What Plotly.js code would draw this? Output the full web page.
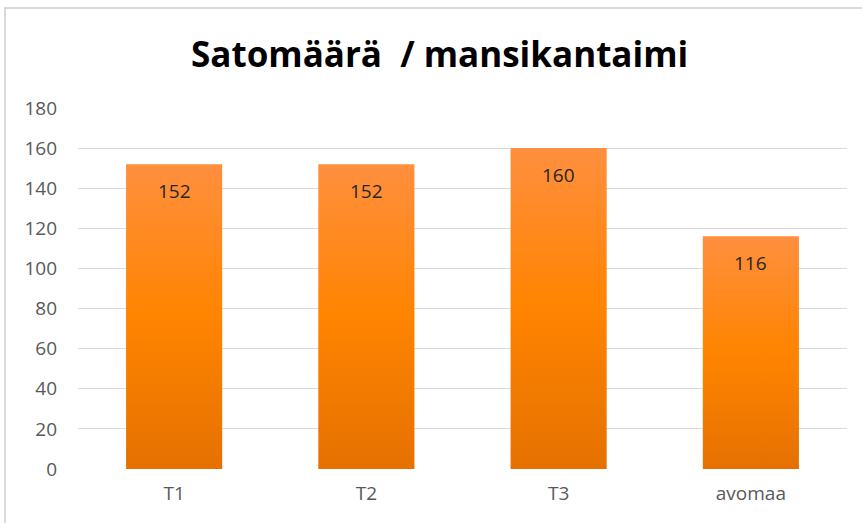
<!DOCTYPE html>
<html>
<head>
<meta charset="utf-8">
<script src="https://cdn.plot.ly/plotly-3.0.1.min.js"></script>
<style>
  html, body { margin: 0; padding: 0; background: #fff; }
  #wrap { position: relative; width: 862px; height: 523px; }
  #chart { position: absolute; left: 0; top: 0; width: 862px; height: 523px; }
  #frame { position: absolute; left: 4px; top: 7px; width: 900px; height: 600px;
           border-top: 2px solid #d9d9d9; border-left: 2px solid #d9d9d9; pointer-events: none; }
</style>
</head>
<body>
<div id="wrap">
  <div id="chart"></div>
  <div id="frame"></div>
</div>
<script>
const categories = ["T1", "T2", "T3", "avomaa"];
const values = [152, 152, 160, 116];
const yTicks = [0, 20, 40, 60, 80, 100, 120, 140, 160, 180];
const chartTitle = "Satomäärä  / mansikantaimi";

const tickFont = { family: "Open Sans, Noto Sans, sans-serif", size: 19, color: "#595959" };

const trace = {
  type: "bar",
  x: categories,
  y: values,
  marker: { color: "#ff8400", line: { width: 0 } },
  hoverinfo: "x+y"
};

const annotations = categories.map((c, i) => ({
  x: c, y: values[i], xref: "x", yref: "y",
  text: String(values[i]), showarrow: false,
  yanchor: "top", yshift: -12,
  font: { family: "Open Sans, Noto Sans, sans-serif", size: 19, color: "#262626" }
}));

const layout = {
  width: 862, height: 523,
  margin: { l: 78, r: 15, t: 108, b: 54 },
  paper_bgcolor: "#ffffff",
  plot_bgcolor: "#ffffff",
  bargap: 0.5,
  showlegend: false,
  title: {
    text: chartTitle,
    x: 0.51, xanchor: "center",
    y: 0.895, yanchor: "middle",
    font: { family: "Open Sans, Noto Sans, sans-serif", size: 35, color: "#000000", weight: 700 }
  },
  xaxis: {
    type: "category",
    tickfont: tickFont,
    ticks: "", showline: false, showgrid: false, zeroline: false,
    ticklabelstandoff: 11
  },
  yaxis: {
    range: [0, 180],
    tickvals: yTicks,
    ticktext: yTicks.map(String),
    tickfont: tickFont,
    ticks: "", showline: false, zeroline: false,
    showgrid: true, gridcolor: "#d9d9d9", gridwidth: 1,
    ticklabelstandoff: 20
  },
  annotations: annotations
};

Plotly.newPlot("chart", [trace], layout, { displayModeBar: false, staticPlot: true }).then(gd => {
  const svg = gd.querySelector("svg.main-svg");
  const ns = "http://www.w3.org/2000/svg";
  let defs = svg.querySelector("defs");
  if (!defs) { defs = document.createElementNS(ns, "defs"); svg.insertBefore(defs, svg.firstChild); }
  const grad = document.createElementNS(ns, "linearGradient");
  grad.setAttribute("id", "barGrad");
  grad.setAttribute("x1", "0"); grad.setAttribute("y1", "0");
  grad.setAttribute("x2", "0"); grad.setAttribute("y2", "1");
  [["0%", "#ff8f3e"], ["50%", "#ff8400"], ["100%", "#e57100"]].forEach(([o, c]) => {
    const s = document.createElementNS(ns, "stop");
    s.setAttribute("offset", o); s.setAttribute("stop-color", c);
    grad.appendChild(s);
  });
  defs.appendChild(grad);
  gd.querySelectorAll(".trace.bars .point path").forEach(p => { p.style.fill = "url(#barGrad)"; });
});
</script>
</body>
</html>
